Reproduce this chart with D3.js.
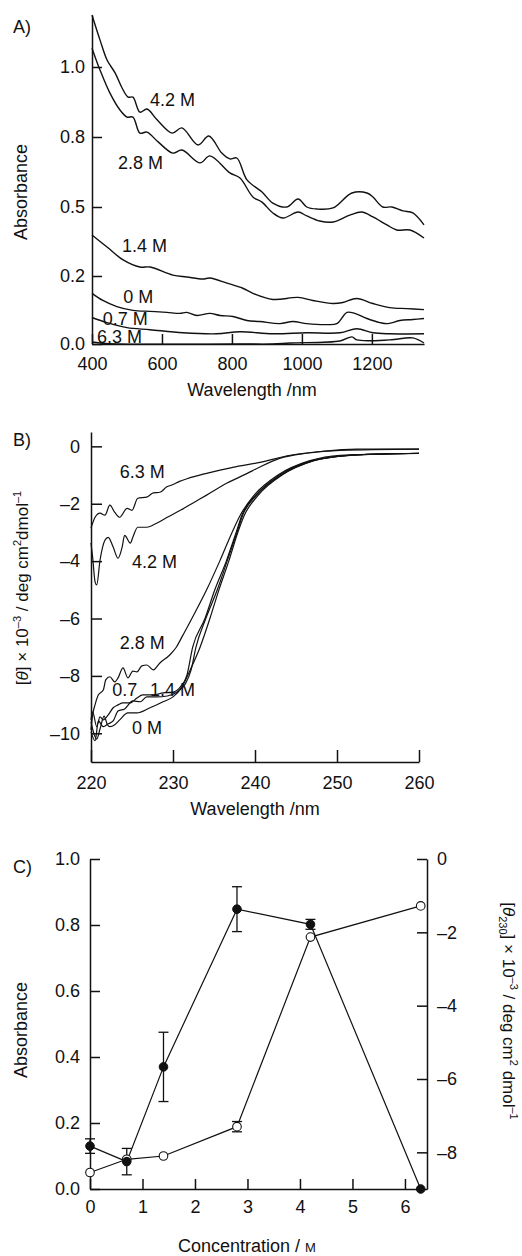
<!DOCTYPE html>
<html>
<head>
<meta charset="utf-8">
<title></title>
<script src="https://d3js.org/d3.v7.min.js"></script>
<style>
body { margin: 0; background: #fff; }
</style>
</head>
<body>
<script>

var width = 522
var height = 1256
var font = '"Liberation Sans", Arial, sans-serif'
var ink = '#111'

// ---------- A) absorbance spectra
var aTicksX = [400, 600, 800, 1000, 1200]
var aTicksY = [0, 0.2, 0.5, 0.8, 1.0]

var aWave42 = [400,423,443,466,486,503,517,537,557,586,629,657,703,734,771,794,814,843,886,917,957,989,1014,1043,1089,1143,1186,1203,1231,1257,1289,1317,1349]
var aAbs42  = [1.149,1.077,1.02,0.983,0.94,0.914,0.914,0.871,0.88,0.849,0.811,0.826,0.766,0.803,0.731,0.706,0.71,0.616,0.564,0.517,0.5,0.534,0.5,0.491,0.496,0.56,0.56,0.543,0.5,0.5,0.483,0.474,0.422]

var aWave28 = [400,423,451,480,500,517,537,557,589,631,657,709,737,794,823,860,886,917,946,989,1014,1051,1089,1137,1171,1203,1243,1271,1309,1349]
var aAbs28  = [1.054,0.991,0.926,0.877,0.857,0.857,0.811,0.814,0.779,0.731,0.744,0.689,0.719,0.646,0.624,0.543,0.521,0.474,0.452,0.478,0.461,0.439,0.435,0.465,0.478,0.457,0.422,0.4,0.4,0.365]

var aWave14 = [400,443,489,537,566,631,671,717,737,786,831,860,917,989,1031,1089,1117,1157,1203,1251,1300,1349]
var aAbs14  = [0.378,0.326,0.27,0.239,0.239,0.204,0.197,0.191,0.194,0.179,0.164,0.149,0.131,0.137,0.128,0.119,0.122,0.134,0.119,0.107,0.104,0.101]

var aWave0 = [400,431,471,517,566,614,651,671,700,737,766,803,843,880,937,974,1014,1071,1100,1129,1151,1186,1223,1246,1280,1317,1349]
var aAbs0  = [0.149,0.128,0.11,0.099,0.096,0.093,0.09,0.093,0.084,0.09,0.084,0.081,0.069,0.066,0.06,0.066,0.06,0.057,0.06,0.093,0.09,0.075,0.063,0.06,0.069,0.072,0.075]

var aWave07 = [400,443,500,566,660,757,823,917,1014,1109,1157,1203,1251,1349]
var aAbs07  = [0.078,0.063,0.048,0.042,0.033,0.03,0.036,0.03,0.033,0.033,0.045,0.033,0.03,0.03]

var aWave63 = [400,423,471,823,917,966,1109,1143,1157,1251,1317,1349]
var aAbs63  = [0.006,0.003,0.0,0.0,0.0,0.003,0.009,0.021,0.012,0.012,0.018,0.003]

var aLabels = ['4.2 M', '2.8 M', '1.4 M', '0 M', '0.7 M', '6.3 M']
var aLabelWave = [566, 474, 486, 489, 431, 414]
var aLabelAbs = [0.889, 0.663, 0.304, 0.122, 0.057, 0.003]

// ---------- B) CD spectra
var bTicksX = [220, 230, 240, 250, 260]
var bTicksY = [0, -2, -4, -6, -8, -10]

var bWave63  = [220,220.5,221.1,221.7,222.3,222.9,223.5,224.4,225,225.7,226.8,227.6,228.4,229.2,230,230.8,231.7,234.1,237.3,240.6,244.3,248.3,252.4,260]
var bTheta63 = [-2.85,-2.47,-2.33,-2.40,-2.05,-2.30,-2.47,-2.16,-2.23,-1.81,-1.77,-1.62,-1.60,-1.42,-1.33,-1.22,-1.13,-0.94,-0.73,-0.56,-0.31,-0.17,-0.10,-0.10]

var bWave42  = [220,220.2,220.5,220.7,221.1,221.7,222.1,222.7,223.3,223.8,224.1,224.8,225.1,225.7,226.8,228,229.3,230.9,232.4,234.1,236.6,239,240.6,243,246.3,250.4,260]
var bTheta42 = [-3.37,-3.86,-4.73,-4.83,-3.97,-3.27,-3.17,-3.51,-3.90,-3.51,-3.10,-3.37,-3.17,-2.82,-2.82,-2.68,-2.47,-2.23,-1.98,-1.70,-1.28,-0.95,-0.72,-0.42,-0.24,-0.14,-0.10]

var bWave28  = [220,220.2,220.5,220.9,221.5,221.8,222.3,222.9,223.3,223.9,224.5,225.1,225.6,226.2,226.8,227.6,228.4,229.6,230.4,231.1,232.3,234.1,235.7,237.2,238.2,239.9,242.8,246.7,250.4,255.2,260]
var bTheta28 = [-9.88,-9.36,-9.0,-8.66,-8.49,-8.14,-8.03,-8.21,-8.07,-7.72,-8.07,-7.83,-7.86,-7.65,-7.62,-7.79,-7.55,-7.27,-7.0,-6.64,-6.0,-5.0,-4.0,-3.0,-2.4,-1.7,-1.0,-0.5,-0.31,-0.27,-0.24]

var bWave07  = [220,220.2,220.7,221.1,221.5,222.1,222.7,223.3,223.9,224.8,225.6,226.3,227.6,228.8,230,230.9,231.7,232.4,233.9,235.1,236.5,237.7,238.4,240.1,243,247,251,255.9,260]
var bTheta07 = [-9.53,-9.25,-9.77,-9.43,-9.53,-9.36,-9.11,-9.01,-8.94,-8.94,-8.77,-8.66,-8.66,-8.59,-8.56,-8.38,-7.97,-7.0,-6.0,-5.0,-4.0,-3.0,-2.4,-1.7,-1.0,-0.5,-0.32,-0.26,-0.24]

var bWave14  = [220,220.5,220.9,221.5,222.1,222.7,223.3,224.1,225.1,226,226.8,228,229.3,230.5,231.5,232.2,232.8,234,235.4,236.6,237.8,238.5,240.2,243.2,247.1,251.1,256,260]
var bTheta14 = [-9.95,-10.26,-9.57,-9.77,-9.67,-9.57,-9.22,-9.15,-8.87,-8.90,-8.73,-8.73,-8.70,-8.56,-8.28,-7.8,-7.0,-6.0,-5.0,-4.0,-3.0,-2.4,-1.7,-1.0,-0.5,-0.32,-0.26,-0.24]

var bWave0  = [220,220.4,220.7,221.1,221.6,222,222.3,222.9,223.5,224.5,225.6,227.2,228.8,230,231.1,232.1,233.3,234.5,235.6,236.8,237.9,238.7,240.4,243.3,247.2,251.2,256.1,260]
var bTheta0 = [-9.60,-10.05,-10.2,-9.85,-9.40,-9.70,-9.77,-9.70,-9.53,-9.29,-9.29,-9.11,-8.90,-8.73,-8.38,-7.79,-7.0,-6.0,-5.0,-4.0,-3.0,-2.4,-1.7,-1.0,-0.5,-0.32,-0.26,-0.25]

var bLabels = ['6.3 M', '4.2 M', '2.8 M', '0.7', '1.4 M', '0 M']
var bLabelWave = [223.5, 225, 223.5, 222.6, 227.2, 225]
var bLabelTheta = [-1.11, -4.24, -7.06, -8.70, -8.70, -10.02]

// ---------- C) vs concentration
var cTicksX = [0, 1, 2, 3, 4, 5, 6]
var cTicksLeft = [0, 0.2, 0.4, 0.6, 0.8, 1.0]
var cTicksRight = [0, -2, -4, -6, -8]
var conc = [0, 0.7, 1.4, 2.8, 4.2, 6.3]
var absC = [0.13, 0.083, 0.37, 0.848, 0.802, 0.0]
var absErr = [0.022, 0.04, 0.105, 0.068, 0.015, 0]
var theta230 = [-8.55, -8.19, -8.10, -7.30, -2.13, -1.28]
var thetaErr = [0, 0, 0, 0.14, 0, 0]

var svg = d3.select('body').append('svg')
	.attr('width', width)
	.attr('height', height)
	.attr('font-family', font)

function zip(xs, ys) {
	return xs.map(function(x, i) { return [x, ys[i]] })
}

function styleAxis(g) {
	g.attr('font-family', font).attr('font-size', 18)
	g.select('.domain').attr('stroke', ink).attr('stroke-width', 1.5)
	g.selectAll('.tick line').attr('stroke', ink).attr('stroke-width', 1.5)
	g.selectAll('.tick text').attr('fill', ink)
}

var dash = function(d) { return String(d).replace('-', '\u2013') }
var plain = d3.format('d')

function addText(x, y, str, anchor) {
	return svg.append('text')
		.attr('x', x).attr('y', y)
		.attr('font-size', 18)
		.attr('fill', ink)
		.attr('text-anchor', anchor || 'start')
		.text(str)
}

// ===== panel A
var xA = d3.scaleLinear().domain([400, 1349]).range([92, 424])
var yA = d3.scaleLinear().domain([0, 0.2, 0.5, 0.8, 1.0, 1.149]).range([344, 276, 207, 137, 67, 15])

svg.append('g').attr('transform', 'translate(0,344)')
	.call(d3.axisBottom(xA).tickValues(aTicksX).tickFormat(plain).tickSizeInner(-10).tickSizeOuter(0).tickPadding(13))
	.call(styleAxis)
svg.append('g').attr('transform', 'translate(92,0)')
	.call(d3.axisLeft(yA).tickValues(aTicksY).tickFormat(d3.format('.1f')).tickSizeInner(-10).tickSizeOuter(0).tickPadding(7))
	.call(styleAxis)

var lineA = d3.line()
	.x(function(d) { return xA(d[0]) })
	.y(function(d) { return yA(d[1]) })
	.curve(d3.curveCatmullRom)

var aSeries = [zip(aWave42, aAbs42), zip(aWave28, aAbs28), zip(aWave14, aAbs14), zip(aWave0, aAbs0), zip(aWave07, aAbs07), zip(aWave63, aAbs63)]
svg.append('g').selectAll('path')
	.data(aSeries)
	.enter().append('path')
	.attr('d', lineA)
	.attr('fill', 'none')
	.attr('stroke', ink)
	.attr('stroke-width', 1.4)

aLabels.forEach(function(t, i) {
	addText(xA(aLabelWave[i]), yA(aLabelAbs[i]), t)
})

addText(13, 33, 'A)')
addText(252, 396, 'Wavelength /nm', 'middle')
addText(0, 0, 'Absorbance', 'middle').attr('transform', 'translate(27,192) rotate(-90)')

// ===== panel B
var xB = d3.scaleLinear().domain([220, 260]).range([91, 419])
var yB = d3.scaleLinear().domain([-11, 0.5]).range([762, 432])

svg.append('g').attr('transform', 'translate(0,762)')
	.call(d3.axisBottom(xB).tickValues(bTicksX).tickFormat(plain).tickSizeInner(-12).tickSizeOuter(0).tickPadding(14))
	.call(styleAxis)
svg.append('g').attr('transform', 'translate(91,0)')
	.call(d3.axisLeft(yB).tickValues(bTicksY).tickFormat(dash).tickSizeInner(-11).tickSizeOuter(0).tickPadding(11))
	.call(styleAxis)

var lineB = d3.line()
	.x(function(d) { return xB(d[0]) })
	.y(function(d) { return yB(d[1]) })
	.curve(d3.curveMonotoneX)

var bSeries = [zip(bWave63, bTheta63), zip(bWave42, bTheta42), zip(bWave28, bTheta28), zip(bWave07, bTheta07), zip(bWave14, bTheta14), zip(bWave0, bTheta0)]
svg.append('g').selectAll('path')
	.data(bSeries)
	.enter().append('path')
	.attr('d', lineB)
	.attr('fill', 'none')
	.attr('stroke', ink)
	.attr('stroke-width', 1.2)

bLabels.forEach(function(t, i) {
	addText(xB(bLabelWave[i]), yB(bLabelTheta[i]), t)
})

addText(13, 446, 'B)')
addText(255, 815, 'Wavelength /nm', 'middle')

var tB = svg.append('text')
	.attr('font-size', 17).attr('fill', ink).attr('text-anchor', 'middle')
	.attr('transform', 'translate(28,588) rotate(-90)')
tB.append('tspan').text('[')
tB.append('tspan').attr('font-style', 'italic').text('\u03b8')
tB.append('tspan').text('] \u00d7 10')
tB.append('tspan').attr('font-size', 11).attr('dy', -7).text('\u2013' + '3')
tB.append('tspan').attr('dy', 7).text(' / deg cm')
tB.append('tspan').attr('font-size', 11).attr('dy', -7).text('2')
tB.append('tspan').attr('dy', 7).text('dmol')
tB.append('tspan').attr('font-size', 11).attr('dy', -7).text('\u2013' + '1')

// ===== panel C
var xC = d3.scaleLinear().domain([0, 6.42]).range([90, 427])
var yCL = d3.scaleLinear().domain([0, 1]).range([1189, 859])
var yCR = d3.scaleLinear().domain([-9, 0]).range([1189, 859])

svg.append('g').attr('transform', 'translate(0,1189)')
	.call(d3.axisBottom(xC).tickValues(cTicksX).tickFormat(plain).tickSizeInner(-10).tickSizeOuter(0).tickPadding(11))
	.call(styleAxis)
svg.append('g').attr('transform', 'translate(90,0)')
	.call(d3.axisLeft(yCL).tickValues(cTicksLeft).tickFormat(d3.format('.1f')).tickSizeInner(-10).tickSizeOuter(0).tickPadding(10))
	.call(styleAxis)
svg.append('g').attr('transform', 'translate(427,0)')
	.call(d3.axisRight(yCR).tickValues(cTicksRight).tickFormat(dash).tickSizeInner(-10).tickSizeOuter(0).tickPadding(10))
	.call(styleAxis)

var absPts = conc.map(function(c, i) { return { x: c, y: absC[i], e: absErr[i] } })
var thPts = conc.map(function(c, i) { return { x: c, y: theta230[i], e: thetaErr[i] } })

function drawSeries(pts, yS) {
	var line = d3.line()
		.x(function(d) { return xC(d.x) })
		.y(function(d) { return yS(d.y) })
	svg.append('path')
		.datum(pts)
		.attr('d', line)
		.attr('fill', 'none')
		.attr('stroke', ink)
		.attr('stroke-width', 1.2)
	var eb = svg.append('g').selectAll('g')
		.data(pts.filter(function(d) { return d.e > 0 }))
		.enter().append('g')
		.attr('stroke', ink)
		.attr('stroke-width', 1.3)
	eb.append('line')
		.attr('x1', function(d) { return xC(d.x) }).attr('x2', function(d) { return xC(d.x) })
		.attr('y1', function(d) { return yS(d.y - d.e) }).attr('y2', function(d) { return yS(d.y + d.e) })
	eb.append('line')
		.attr('x1', function(d) { return xC(d.x) - 5 }).attr('x2', function(d) { return xC(d.x) + 5 })
		.attr('y1', function(d) { return yS(d.y + d.e) }).attr('y2', function(d) { return yS(d.y + d.e) })
	eb.append('line')
		.attr('x1', function(d) { return xC(d.x) - 5 }).attr('x2', function(d) { return xC(d.x) + 5 })
		.attr('y1', function(d) { return yS(d.y - d.e) }).attr('y2', function(d) { return yS(d.y - d.e) })
}

drawSeries(thPts, yCR)
drawSeries(absPts, yCL)

svg.append('g').selectAll('circle')
	.data(thPts)
	.enter().append('circle')
	.attr('cx', function(d) { return xC(d.x) })
	.attr('cy', function(d) { return yCR(d.y) })
	.attr('r', 4.3)
	.attr('fill', '#fff')
	.attr('stroke', ink)
	.attr('stroke-width', 1.1)

svg.append('g').selectAll('circle')
	.data(absPts)
	.enter().append('circle')
	.attr('cx', function(d) { return xC(d.x) })
	.attr('cy', function(d) { return yCL(d.y) })
	.attr('r', 4.3)
	.attr('fill', ink)
	.attr('stroke', ink)
	.attr('stroke-width', 1)

addText(13, 873, 'C)')
addText(0, 0, 'Absorbance', 'middle').attr('transform', 'translate(27,1030) rotate(-90)')

var tC = addText(247, 1252, 'Concentration / ', 'middle')
tC.append('tspan').attr('font-size', 13).text('M')

var tR = svg.append('text')
	.attr('font-size', 17).attr('fill', ink).attr('text-anchor', 'middle')
	.attr('transform', 'translate(503,1011) rotate(90)')
tR.append('tspan').text('[')
tR.append('tspan').attr('font-style', 'italic').text('\u03b8')
tR.append('tspan').attr('font-size', 11).attr('dy', 4).text('230')
tR.append('tspan').attr('dy', -4).text('] \u00d7 10')
tR.append('tspan').attr('font-size', 11).attr('dy', -7).text('\u2013' + '3')
tR.append('tspan').attr('dy', 7).text(' / deg cm')
tR.append('tspan').attr('font-size', 11).attr('dy', -7).text('2')
tR.append('tspan').attr('dy', 7).text(' dmol')
tR.append('tspan').attr('font-size', 11).attr('dy', -7).text('\u2013' + '1')

</script>
</body>
</html>
